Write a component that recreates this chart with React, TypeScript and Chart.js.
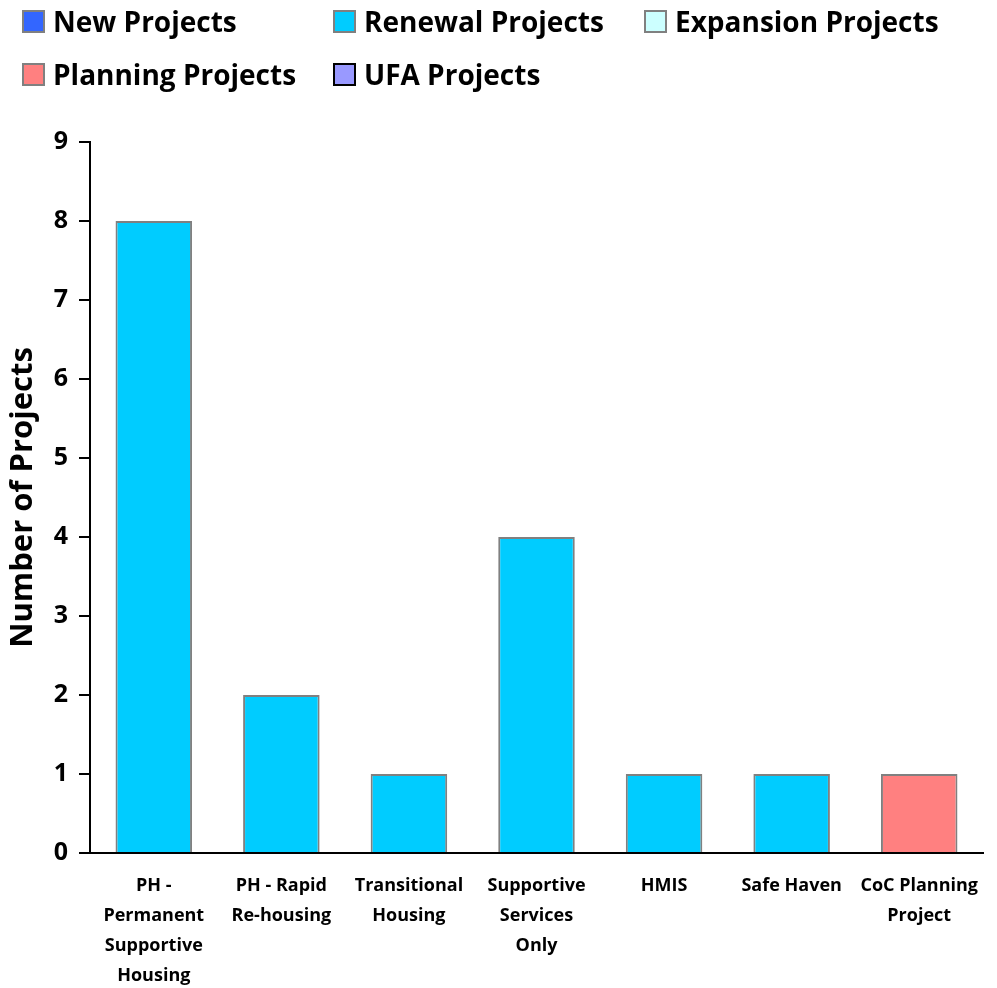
import React, { useEffect, useRef } from "react";
import { Chart, registerables } from "chart.js";

Chart.register(...registerables);

const categories: string[][] = [
  ["PH -", "Permanent", "Supportive", "Housing"],
  ["PH - Rapid", "Re-housing"],
  ["Transitional", "Housing"],
  ["Supportive", "Services", "Only"],
  ["HMIS"],
  ["Safe Haven"],
  ["CoC Planning", "Project"],
];

const seriesNames = [
  "New Projects",
  "Renewal Projects",
  "Expansion Projects",
  "Planning Projects",
  "UFA Projects",
];

const newProjects = [0, 0, 0, 0, 0, 0, 0];
const renewalProjects = [8, 2, 1, 4, 1, 1, 0];
const expansionProjects = [0, 0, 0, 0, 0, 0, 0];
const planningProjects = [0, 0, 0, 0, 0, 0, 1];
const ufaProjects = [0, 0, 0, 0, 0, 0, 0];

const seriesColors = ["#3366FF", "#00CCFF", "#CCFFFF", "#FF8080", "#9999FF"];
const seriesBorders = ["#808080", "#808080", "#808080", "#808080", "#000000"];

const yTicks = [0, 1, 2, 3, 4, 5, 6, 7, 8, 9];

const FONT = "'Open Sans', Lato, sans-serif";
const W = 981;
const H = 980;

export default function App() {
  const ref = useRef<HTMLCanvasElement | null>(null);

  useEffect(() => {
    if (!ref.current) return;
    const values = [newProjects, renewalProjects, expansionProjects, planningProjects, ufaProjects];
    const chart = new Chart(ref.current, {
      type: "bar",
      data: {
        labels: categories,
        datasets: values.map((v, i) => ({
          label: seriesNames[i],
          data: v,
          backgroundColor: seriesColors[i],
          borderColor: "#808080",
          borderWidth: 2,
          categoryPercentage: 1,
          barPercentage: 0.6,
        })),
      },
      options: {
        animation: false,
        responsive: false,
        devicePixelRatio: 1,
        layout: { padding: { top: 134, right: 6, left: 0, bottom: 0 } },
        plugins: {
          legend: { display: false },
          tooltip: { enabled: false },
        },
        scales: {
          x: {
            stacked: true,
            grid: { display: false },
            border: { display: true, color: "#000", width: 2 },
            ticks: {
              color: "#000",
              font: { family: FONT, weight: "bold", size: 18, lineHeight: "30px" } as any,
              padding: 10,
              maxRotation: 0,
              autoSkip: false,
            },
            afterFit: (s: any) => {
              s.height = H - 845;
            },
          },
          y: {
            stacked: true,
            min: 0,
            max: 9,
            afterBuildTicks: (s: any) => {
              s.ticks = yTicks.map((v) => ({ value: v }));
            },
            grid: {
              display: true,
              drawOnChartArea: false,
              drawTicks: true,
              tickLength: 11,
              color: "#000",
              lineWidth: 2,
            },
            border: { display: true, color: "#000", width: 2 },
            ticks: {
              color: "#000",
              font: { family: FONT, weight: "bold", size: 25 },
              padding: 11,
              stepSize: 1,
            },
            title: {
              display: true,
              text: "Number of Projects",
              color: "#000",
              font: { family: FONT, weight: "bold", size: 31, lineHeight: 1 },
              padding: { top: 0, bottom: 0 },
            },
            afterFit: (s: any) => {
              s.width = 82;
            },
          },
        },
      },
    });
    return () => chart.destroy();
  }, []);

  const legendRows = [
    [0, 1, 2],
    [3, 4],
  ];
  const colX = [14, 325, 636];
  const rowY = [1, 54];

  return (
    <div style={{ position: "relative", width: W, height: H }}>
      <style>{`html,body{overflow:hidden}`}</style>
      <canvas ref={ref} width={W} height={H} style={{ position: "absolute", left: 0, top: 0, width: W, height: H }} />
      {legendRows.map((row, r) =>
        row.map((si, c) => (
          <div
            key={si}
            style={{
              position: "absolute",
              left: colX[c],
              top: rowY[r],
              height: 24,
              display: "flex",
              alignItems: "center",
              fontFamily: FONT,
              fontWeight: "bold",
              fontSize: 28,
              color: "#000",
              whiteSpace: "nowrap",
              lineHeight: "24px",
            }}
          >
            <span
              style={{
                display: "inline-block",
                flex: "none",
                width: 19,
                height: 19,
                background: seriesColors[si],
                border: `2px solid ${seriesBorders[si]}`,
                marginRight: 8,
              }}
            />
            <span>{seriesNames[si]}</span>
          </div>
        ))
      )}
    </div>
  );
}
